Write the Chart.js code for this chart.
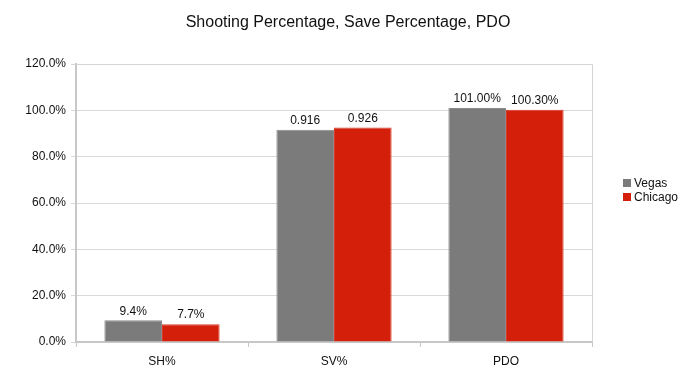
<!DOCTYPE html>
<html>
<head>
<meta charset="utf-8">
<script src="https://cdn.jsdelivr.net/npm/chart.js@4/dist/chart.umd.min.js"></script>
<style>
html,body{margin:0;padding:0;background:#fff;}
#wrap{width:684px;height:379px;position:relative;}
</style>
</head>
<body>
<div id="wrap"><canvas id="c"></canvas></div>
<script>
const categories = ["SH%", "SV%", "PDO"];
const vegasValues = [9.4, 91.6, 101.0];
const chicagoValues = [7.7, 92.6, 100.3];
const vegasLabels = ["9.4%", "0.916", "101.00%"];
const chicagoLabels = ["7.7%", "0.926", "100.30%"];
const seriesNames = ["Vegas", "Chicago"];
const yTickMax = 120;
const yTickStep = 20;
const chartTitle = "Shooting Percentage, Save Percentage, PDO";

const FONT = "'Liberation Sans', Arial, Helvetica, sans-serif";
const valueLabels = [vegasLabels, chicagoLabels];

const extras = {
  id: 'extras',
  afterDatasetsDraw(chart) {
    const ctx = chart.ctx;
    ctx.save();
    ctx.font = "12px " + FONT;
    ctx.fillStyle = "#111";
    ctx.textAlign = "center";
    ctx.textBaseline = "bottom";
    chart.data.datasets.forEach((ds, di) => {
      const meta = chart.getDatasetMeta(di);
      meta.data.forEach((bar, i) => {
        ctx.fillText(valueLabels[di][i], bar.x, bar.y - 3);
      });
    });
    ctx.restore();
  },
  afterDraw(chart) {
    const ctx = chart.ctx;
    const a = chart.chartArea;
    ctx.save();
    ctx.strokeStyle = "#d4d4d4";
    ctx.lineWidth = 1;
    ctx.beginPath();
    ctx.moveTo(a.left, a.top + 0.5);
    ctx.lineTo(a.right + 0.5, a.top + 0.5);
    ctx.lineTo(a.right + 0.5, a.bottom);
    ctx.stroke();
    // title, centred on the whole canvas
    ctx.font = "16px " + FONT;
    ctx.fillStyle = "#111";
    ctx.textAlign = "center";
    ctx.textBaseline = "alphabetic";
    ctx.fillText(chartTitle, chart.width / 2 + 6, 27);
    // legend
    ctx.font = "12px " + FONT;
    ctx.textBaseline = "middle";
    ctx.textAlign = "left";
    chart.data.datasets.forEach((ds, di) => {
      const y = 183 + di * 14;
      ctx.fillStyle = ds.backgroundColor;
      ctx.fillRect(623, y - 4, 8, 8);
      ctx.fillStyle = "#111";
      ctx.fillText(ds.label, 634, y + 0.5);
    });
    ctx.restore();
  }
};

new Chart(document.getElementById('c'), {
  type: 'bar',
  data: {
    labels: categories,
    datasets: [
      { label: seriesNames[0], data: vegasValues, backgroundColor: "#7b7b7b", borderColor: "#8a8a8a", borderWidth: 1 },
      { label: seriesNames[1], data: chicagoValues, backgroundColor: "#d4200b", borderColor: "#d83a28", borderWidth: 1 }
    ]
  },
  options: {
    responsive: true,
    maintainAspectRatio: false,
    animation: false,
    layout: { padding: { left: 0, right: 92, top: 64, bottom: 0 } },
    datasets: { bar: { categoryPercentage: 0.67, barPercentage: 1.0 } },
    plugins: {
      legend: { display: false },
      tooltip: { enabled: false },
      title: { display: false }
    },
    scales: {
      x: {
        grid: { display: true, drawOnChartArea: false, drawTicks: true, tickLength: 5, color: "#c8c8c8", offset: true },
        border: { display: true, color: "#c8c8c8", width: 2 },
        ticks: { color: "#111", font: { family: FONT, size: 12 }, padding: 7 },
        afterFit(scale) { scale.height = 37; }
      },
      y: {
        min: 0,
        max: yTickMax,
        grid: { color: "#d9d9d9", tickLength: 5, drawTicks: true },
        border: { display: true, color: "#c8c8c8", width: 2 },
        ticks: {
          stepSize: yTickStep,
          color: "#111",
          font: { family: FONT, size: 12 },
          padding: 5,
          callback: v => v.toFixed(1) + "%"
        },
        afterFit(scale) { scale.width = 76; }
      }
    }
  },
  plugins: [extras]
});
</script>
</body>
</html>
